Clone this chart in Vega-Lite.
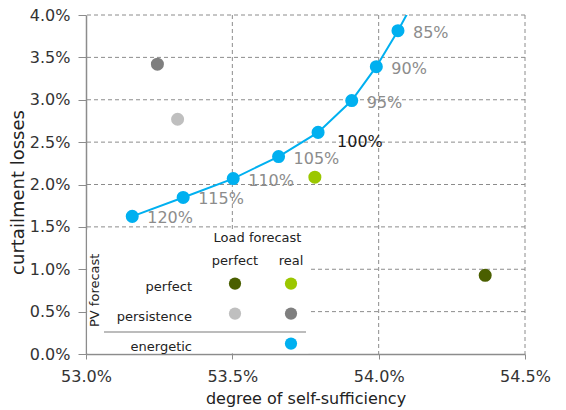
{
  "$schema": "https://vega.github.io/schema/vega-lite/v6.json",
  "width": 439,
  "height": 339,
  "autosize": {"type": "none"},
  "padding": {"left": 86, "top": 15, "right": 41, "bottom": 56},
  "background": "white",
  "config": {
    "font": "DejaVu Sans",
    "view": {"stroke": null},
    "axis": {
      "grid": false,
      "domainColor": "#8c8c8c",
      "domainWidth": 1.5,
      "tickColor": "#8c8c8c",
      "labelFont": "DejaVu Sans",
      "labelFontSize": 16,
      "labelColor": "#333333",
      "labelFlush": false,
      "titleFont": "DejaVu Sans",
      "titleFontSize": 16,
      "titleFontWeight": "normal",
      "titleColor": "#222222"
    }
  },
  "datasets": {
    "energetic": [
      {"share": "120%", "sufficiency": 53.158, "losses": 1.624, "scenario": "energetic|real"},
      {"share": "115%", "sufficiency": 53.332, "losses": 1.847, "scenario": "energetic|real"},
      {"share": "110%", "sufficiency": 53.503, "losses": 2.07, "scenario": "energetic|real"},
      {"share": "105%", "sufficiency": 53.658, "losses": 2.33, "scenario": "energetic|real"},
      {"share": "100%", "sufficiency": 53.793, "losses": 2.615, "scenario": "energetic|real"},
      {"share": "95%", "sufficiency": 53.908, "losses": 2.99, "scenario": "energetic|real"},
      {"share": "90%", "sufficiency": 53.992, "losses": 3.39, "scenario": "energetic|real"},
      {"share": "85%", "sufficiency": 54.066, "losses": 3.815, "scenario": "energetic|real"},
      {"share": "80%", "sufficiency": 54.15, "losses": 4.35, "scenario": "energetic|real"}
    ],
    "scenarios": [
      {"pv": "perfect", "load": "perfect", "scenario": "perfect|perfect", "sufficiency": 54.364, "losses": 0.929},
      {"pv": "perfect", "load": "real", "scenario": "perfect|real", "sufficiency": 53.782, "losses": 2.086},
      {"pv": "persistence", "load": "perfect", "scenario": "persistence|perfect", "sufficiency": 53.313, "losses": 2.77},
      {"pv": "persistence", "load": "real", "scenario": "persistence|real", "sufficiency": 53.244, "losses": 3.42}
    ],
    "forecasts": [
      {"pv": "perfect", "load": "perfect", "scenario": "perfect|perfect"},
      {"pv": "perfect", "load": "real", "scenario": "perfect|real"},
      {"pv": "persistence", "load": "perfect", "scenario": "persistence|perfect"},
      {"pv": "persistence", "load": "real", "scenario": "persistence|real"},
      {"pv": "energetic", "load": "real", "scenario": "energetic|real"}
    ],
    "xgrid": [{"sufficiency": 53.5}, {"sufficiency": 54.0}, {"sufficiency": 54.5}],
    "ygrid": [{"losses": 0.5}, {"losses": 1.0}, {"losses": 1.5}, {"losses": 2.0}, {"losses": 2.5}, {"losses": 3.0}, {"losses": 3.5}, {"losses": 4.0}]
  },
  "layer": [
    {
      "layer": [
        {
          "data": {"name": "xgrid"},
          "mark": {"type": "rule", "color": "#8c8c8c", "strokeWidth": 1, "strokeDash": [4, 3]},
          "encoding": {
            "x": {
              "field": "sufficiency", "type": "quantitative",
              "scale": {"domain": [53, 54.5], "nice": false, "zero": false},
              "axis": {"values": [53, 53.5, 54, 54.5], "labelExpr": "format(datum.value/100, '.1%')", "tickSize": 5, "labelPadding": 9, "titlePadding": 6, "title": "degree of self-sufficiency"},
              "title": "degree of self-sufficiency"
            }
          }
        },
        {
          "data": {"name": "ygrid"},
          "mark": {"type": "rule", "color": "#8c8c8c", "strokeWidth": 1, "strokeDash": [4, 3]},
          "encoding": {
            "y": {
              "field": "losses", "type": "quantitative",
              "scale": {"domain": [0, 4], "nice": false, "zero": true},
              "axis": {"values": [0, 0.5, 1, 1.5, 2, 2.5, 3, 3.5, 4], "labelExpr": "format(datum.value/100, '.1%')", "tickSize": 8, "labelPadding": 8, "titlePadding": 2, "titleFontSize": 18, "titleY": 177, "title": "curtailment losses"},
              "title": "curtailment losses"
            }
          }
        },
        {
          "data": {"values": [{"box": "legend"}]},
          "mark": {"type": "bar", "fill": "white", "color": "white", "opacity": 1},
          "encoding": {
            "x": {"datum": 53.004, "type": "quantitative", "title": "degree of self-sufficiency"},
            "x2": {"datum": 53.76},
            "y": {"datum": 0.01, "type": "quantitative", "title": "curtailment losses"},
            "y2": {"datum": 1.47}
          }
        },
        {
          "data": {"name": "energetic"},
          "mark": {"type": "line", "color": "#00b0f0", "strokeWidth": 2, "clip": true},
          "encoding": {
            "x": {"field": "sufficiency", "type": "quantitative", "title": "degree of self-sufficiency"},
            "y": {"field": "losses", "type": "quantitative", "title": "curtailment losses"}
          }
        },
        {
          "data": {"name": "energetic"},
          "transform": [{"filter": "datum.losses <= 4"}],
          "mark": {"type": "point", "filled": true, "size": 170, "opacity": 1},
          "encoding": {
            "x": {"field": "sufficiency", "type": "quantitative", "title": "degree of self-sufficiency"},
            "y": {"field": "losses", "type": "quantitative", "title": "curtailment losses"},
            "color": {"field": "scenario", "type": "nominal", "legend": null,
              "scale": {"domain": ["perfect|perfect", "perfect|real", "persistence|perfect", "persistence|real", "energetic|real"], "range": ["#4a5f00", "#9bc700", "#bfbfbf", "#7f7f7f", "#00b0f0"]}}
          }
        },
        {
          "data": {"name": "energetic"},
          "transform": [{"filter": "datum.losses <= 4 && datum.share != '100%'"}],
          "mark": {"type": "text", "align": "left", "baseline": "middle", "dx": 15, "dy": 2, "fontSize": 16, "color": "#8c8c8c"},
          "encoding": {
            "x": {"field": "sufficiency", "type": "quantitative", "title": "degree of self-sufficiency"},
            "y": {"field": "losses", "type": "quantitative", "title": "curtailment losses"},
            "text": {"field": "share"}
          }
        },
        {
          "data": {"name": "energetic"},
          "transform": [{"filter": "datum.share == '100%'"}],
          "mark": {"type": "text", "align": "left", "baseline": "middle", "dx": 19, "dy": 10, "fontSize": 16, "color": "#1a1a1a"},
          "encoding": {
            "x": {"field": "sufficiency", "type": "quantitative", "title": "degree of self-sufficiency"},
            "y": {"field": "losses", "type": "quantitative", "title": "curtailment losses"},
            "text": {"field": "share"}
          }
        },
        {
          "data": {"name": "scenarios"},
          "mark": {"type": "point", "filled": true, "size": 170, "opacity": 1},
          "encoding": {
            "x": {"field": "sufficiency", "type": "quantitative", "title": "degree of self-sufficiency"},
            "y": {"field": "losses", "type": "quantitative", "title": "curtailment losses"},
            "color": {"field": "scenario", "type": "nominal", "legend": null}
          }
        }
      ]
    },
    {
      "data": {"name": "forecasts"},
      "encoding": {
        "x": {"field": "load", "type": "nominal", "scale": {"type": "point", "domain": ["perfect", "real"], "range": [149, 205], "padding": 0}, "axis": null},
        "y": {"field": "pv", "type": "nominal", "scale": {"type": "point", "domain": ["perfect", "persistence", "energetic"], "range": [268.6, 328.6], "padding": 0}, "axis": null}
      },
      "layer": [
        {
          "mark": {"type": "point", "filled": true, "size": 150, "opacity": 1},
          "encoding": {"color": {"field": "scenario", "type": "nominal", "legend": null}}
        },
        {
          "transform": [{"aggregate": [{"op": "count", "as": "n"}], "groupby": ["pv"]}],
          "mark": {"type": "text", "align": "right", "baseline": "middle", "dx": -43, "dy": 3, "fontSize": 13, "color": "#222222"},
          "encoding": {"x": {"datum": "perfect", "type": "nominal"}, "text": {"field": "pv"}}
        },
        {
          "transform": [{"aggregate": [{"op": "count", "as": "n"}], "groupby": ["load"]}],
          "mark": {"type": "text", "align": "center", "baseline": "middle", "dy": -23, "fontSize": 13, "color": "#222222"},
          "encoding": {"y": {"datum": "perfect", "type": "nominal"}, "text": {"field": "load"}}
        },
        {
          "data": {"values": [{"title": "Load forecast"}]},
          "mark": {"type": "text", "align": "center", "baseline": "middle", "dx": 22.5, "dy": -45.6, "fontSize": 13, "color": "#222222"},
          "encoding": {"x": {"datum": "perfect", "type": "nominal"}, "y": {"datum": "perfect", "type": "nominal"}, "text": {"field": "title"}}
        },
        {
          "data": {"values": [{"title": "PV forecast"}]},
          "mark": {"type": "text", "align": "center", "baseline": "middle", "angle": 270, "dx": 23.3, "dy": -139.7, "fontSize": 13, "color": "#222222"},
          "encoding": {"x": {"datum": "perfect", "type": "nominal"}, "y": {"datum": "persistence", "type": "nominal"}, "text": {"field": "title"}}
        },
        {
          "data": {"values": [{"line": "separator"}]},
          "mark": {"type": "rule", "xOffset": -131, "x2Offset": 15, "yOffset": -11.6, "y2Offset": -11.6, "color": "#a6a6a6", "strokeWidth": 1.5},
          "encoding": {"x": {"datum": "perfect", "type": "nominal"}, "x2": {"datum": "real"}, "y": {"datum": "energetic", "type": "nominal"}}
        }
      ]
    }
  ],
  "resolve": {"scale": {"x": "independent", "y": "independent"}}
}
